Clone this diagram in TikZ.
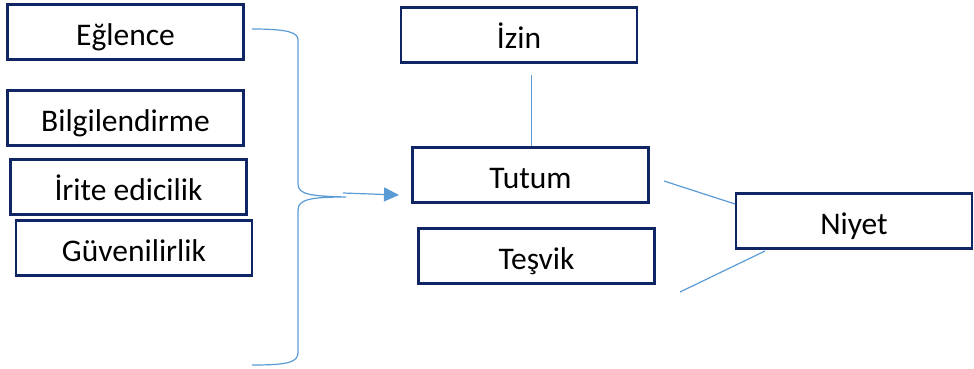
\documentclass[tikz,border=0pt]{standalone}
\usepackage{fontspec}
\setmainfont{Carlito}
\usetikzlibrary{arrows.meta}
\definecolor{boxnavy}{RGB}{16,38,100}
\definecolor{lineblue}{RGB}{91,155,213}
\tikzset{
  kutu/.style={draw=boxnavy, line width=2.5pt, fill=white, minimum width=236pt, minimum height=55pt, inner sep=0pt, text height=31pt, text depth=4pt, font=\fontsize{31.5}{34}\selectfont},
  baglanti/.style={draw=lineblue, line width=1.2pt},
}
\begin{document}
\begin{tikzpicture}[x=1pt,y=-1pt]
\useasboundingbox (0,0) rectangle (974,368);
\node[kutu] (eglence) at (125.5,32) {Eğlence};
\node[kutu] (bilgi) at (125.5,118) {Bilgilendirme};
\node[kutu] (irite) at (128.5,187) {İrite edicilik};
\node[kutu] (guven) at (134,248) {Güvenilirlik};
\node[kutu] (izin) at (519,35) {İzin};
\node[kutu] (tutum) at (530.5,175) {Tutum};
\node[kutu] (tesvik) at (536.5,256) {Teşvik};
\node[kutu] (niyet) at (854,221) {Niyet};
% brace
\coordinate (bust) at (252,29);
\coordinate (buc) at (346,197);
\coordinate (balt) at (252,365);
\draw[baglanti] (bust) .. controls (290,29) and (298,33) .. (298,40) -- (298,184)
  .. controls (298,195) and (312,196) .. (buc)
  .. controls (312,197) and (298,199) .. (298,210) -- (298,352)
  .. controls (298,362) and (290,365) .. (balt);
% arrow
\coordinate (okbas) at (343,193);
\coordinate (okuc) at (399,195);
\draw[baglanti, -{Triangle[length=15pt,width=14pt]}] (okbas) -- (okuc);
% lines
\coordinate (izinalt) at (531.5,75);
\draw[baglanti] (izinalt) -- (tutum.north -| izinalt);
\coordinate (tutumsag) at (664,181);
\coordinate (niyetsol) at (735,204);
\draw[baglanti] (tutumsag) -- (niyetsol);
\coordinate (niyetalt) at (765,251);
\coordinate (tesviksag) at (680,292);
\draw[baglanti] (niyetalt) -- (tesviksag);
\end{tikzpicture}
\end{document}
